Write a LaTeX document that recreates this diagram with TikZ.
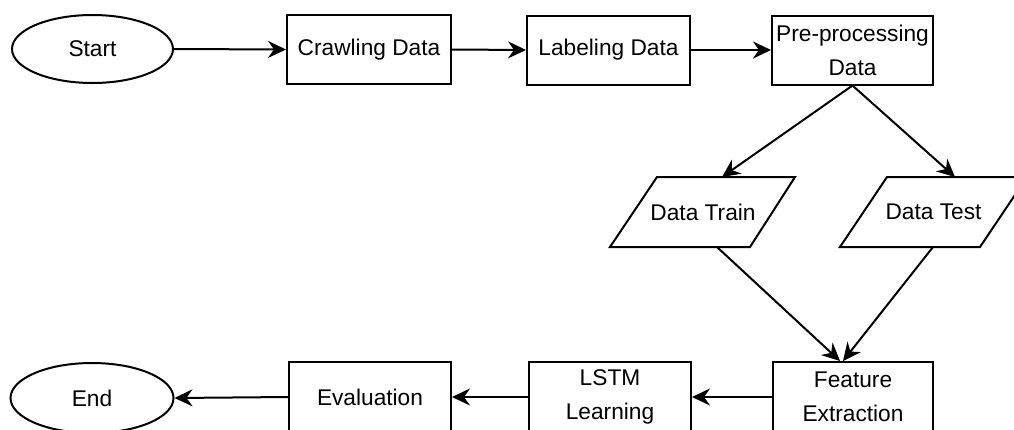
\documentclass[tikz,border=0pt]{standalone}
\usepackage{fontspec}
\setmainfont{Liberation Sans}
\usetikzlibrary{arrows.meta,shapes.geometric,calc}
\begin{document}
\begin{tikzpicture}[x=1pt,y=-1pt,
  every node/.style={font=\fontsize{22.7}{34}\selectfont, inner sep=0pt},
  box/.style={draw, line width=2pt, minimum width=162pt, minimum height=69pt, align=center},
  term/.style={draw, ellipse, line width=2pt, minimum width=161pt, minimum height=68pt},
  conn/.style={line width=2pt, -{Stealth[length=18pt,width=17pt,inset=6pt]}},
  para/.style={draw, line width=2pt, line join=miter}]
\useasboundingbox (0,0) rectangle (1014,429);
\clip (0,0) rectangle (1014,429);
% top row
\node[term] (start) at (92.5,49) {Start};
\node[box, minimum width=164pt] (crawl) at (369,49.5) {Crawling Data};
\node[box, minimum width=163pt] (label) at (608.5,50) {Labeling Data};
\node[box, minimum width=161pt] (pre) at (852.5,50) {Pre-processing\\Data};
% data split
\draw[para] (657,177) -- (795,177) -- (750,247) -- (610,247) -- cycle;
\node (train) at (703,212) {Data Train};
\draw[para] (887,177) -- (1027,177) -- (980,247) -- (840,247) -- cycle;
\node (test) at (933.5,212) {Data Test};
\coordinate (traintop) at (722,177);
\coordinate (trainbot) at (717,247);
\coordinate (testtop) at (955,177);
\coordinate (testbot) at (933,247);
% bottom row
\node[box, minimum width=160pt, minimum height=70pt] (feat) at (853,397) {Feature\\Extraction};
\node[box, minimum width=162pt, minimum height=70pt] (lstm) at (610,397) {LSTM\\Learning};
\node[box, minimum width=162pt, minimum height=70pt] (eval) at (370,397) {Evaluation};
\node[term, minimum width=163pt, minimum height=70pt] (end) at (92,398) {End};
\coordinate (featA) at ($(feat.north)+(-13,0)$);
\coordinate (featB) at ($(feat.north)+(-10,0)$);
% connectors
\draw[conn] (start.east) -- (crawl.west);
\draw[conn] (crawl.east) -- (label.west);
\draw[conn, line width=2.8pt] (label.east) -- (pre.west);
\draw[conn] (pre.south) -- (traintop);
\draw[conn] (pre.south) -- (testtop);
\draw[conn] (trainbot) -- (featA);
\draw[conn] (testbot) -- (featB);
\draw[conn] (feat.west) -- (lstm.east);
\draw[conn] (lstm.west) -- (eval.east);
\draw[conn] (eval.west) -- (end.east);
\end{tikzpicture}
\end{document}
